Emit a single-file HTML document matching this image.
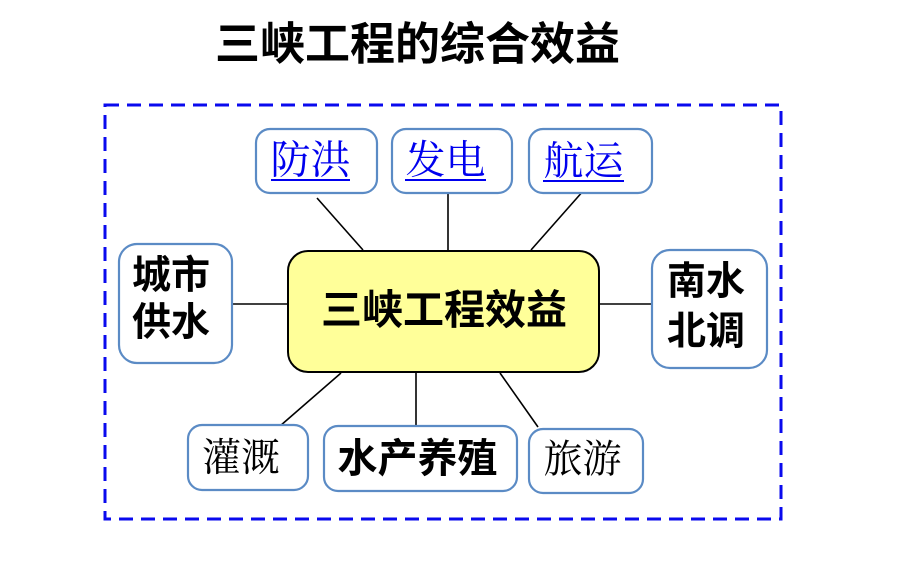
<!DOCTYPE html>
<html>
<head>
<meta charset="utf-8">
<style>
  html, body { margin:0; padding:0; background:#fff; }
  svg { display:block; }
  .sans { font-family: "Liberation Sans", "Noto Sans CJK SC", sans-serif; font-weight:bold; fill:#000; }
  .serif { font-family: "Liberation Serif", "Noto Serif CJK SC", serif; }
</style>
</head>
<body>
<svg width="900" height="585" viewBox="0 0 900 585" xmlns="http://www.w3.org/2000/svg">
  <rect x="0" y="0" width="900" height="585" fill="#fff"/>

  <!-- Title -->
  <text class="sans" x="417.5" y="44" font-size="45" text-anchor="middle" dominant-baseline="central">三峡工程的综合效益</text>

  <!-- dashed frame -->
  <rect x="105" y="105" width="676" height="414" fill="none" stroke="#0a0aee" stroke-width="3" stroke-dasharray="14 8"/>

  <!-- connectors -->
  <g stroke="#000" stroke-width="1.6" fill="none">
    <line x1="317" y1="198" x2="363" y2="250"/>
    <line x1="448" y1="194" x2="448" y2="250"/>
    <line x1="584" y1="190" x2="531" y2="250"/>
    <line x1="233" y1="304" x2="287" y2="304"/>
    <line x1="599" y1="304" x2="651" y2="304"/>
    <line x1="341" y1="373" x2="280" y2="426"/>
    <line x1="416" y1="372" x2="416" y2="426"/>
    <line x1="500" y1="373" x2="538" y2="427"/>
  </g>

  <!-- center box -->
  <rect x="288" y="251" width="311" height="121" rx="20" ry="20" fill="#ffff99" stroke="#000" stroke-width="2"/>
  <text class="sans" x="444" y="310" font-size="41" text-anchor="middle" dominant-baseline="central">三峡工程效益</text>

  <!-- outer boxes -->
  <g fill="#fff" stroke="#5b8bc5" stroke-width="2.2">
    <rect x="256" y="129" width="121" height="64" rx="14" ry="14"/>
    <rect x="392" y="129" width="120" height="64" rx="14" ry="14"/>
    <rect x="529" y="129" width="123" height="64" rx="14" ry="14"/>
    <rect x="119" y="244" width="113" height="119" rx="18" ry="18"/>
    <rect x="652" y="250" width="115" height="118" rx="18" ry="18"/>
    <rect x="188" y="425" width="120" height="65" rx="14" ry="14"/>
    <rect x="324" y="426" width="193" height="65" rx="14" ry="14"/>
    <rect x="529" y="429" width="114" height="64" rx="14" ry="14"/>
  </g>

  <!-- top link texts -->
  <g class="serif" fill="#0000ee" font-size="40" text-anchor="middle" dominant-baseline="central">
    <text x="310.5" y="160">防洪</text>
    <text x="445.5" y="160">发电</text>
    <text x="583.5" y="161">航运</text>
  </g>
  <g stroke="#0000ee" stroke-width="2">
    <line x1="271" y1="180" x2="350" y2="180"/>
    <line x1="405" y1="180" x2="486" y2="180"/>
    <line x1="543" y1="181" x2="624" y2="181"/>
  </g>

  <!-- side texts -->
  <g class="sans" font-size="39" text-anchor="middle" dominant-baseline="central">
    <text x="171" y="276">城市</text>
    <text x="171" y="323">供水</text>
    <text x="706" y="282">南水</text>
    <text x="706" y="332">北调</text>
    <text x="417.5" y="459" font-size="40">水产养殖</text>
  </g>

  <!-- bottom serif texts -->
  <g class="serif" fill="#000" font-size="39" text-anchor="middle" dominant-baseline="central">
    <text x="241" y="458.5">灌溉</text>
    <text x="582.5" y="460">旅游</text>
  </g>
</svg>
</body>
</html>
